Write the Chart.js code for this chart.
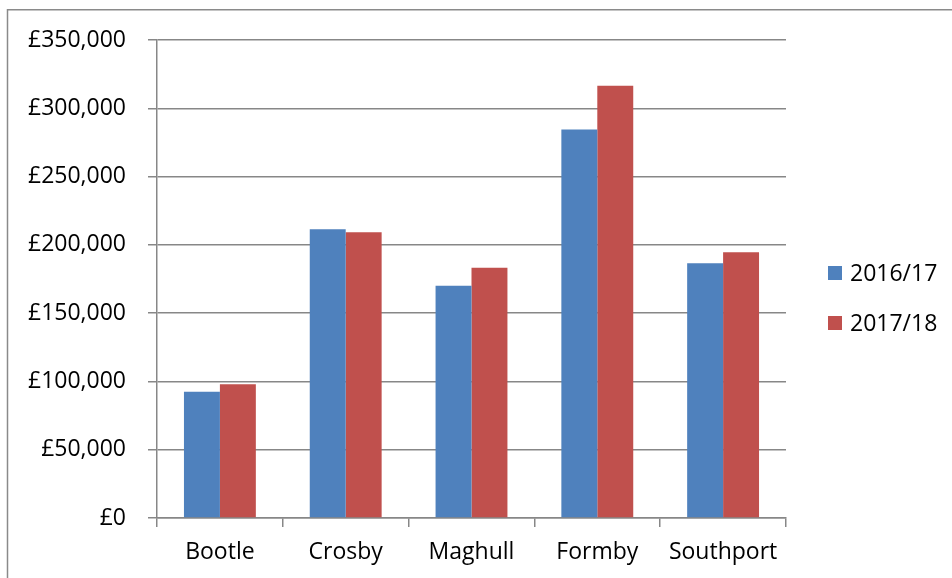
<!DOCTYPE html>
<html>
<head>
<meta charset="utf-8">
<script src="https://cdn.jsdelivr.net/npm/chart.js@4.4.1/dist/chart.umd.min.js"></script>
<style>
html,body{margin:0;padding:0;background:#fff;}
#wrap{position:relative;width:952px;height:578px;}
</style>
</head>
<body>
<div id="wrap"><canvas id="c" width="952" height="578"></canvas></div>
<script>
const categories = ['Bootle', 'Crosby', 'Maghull', 'Formby', 'Southport'];
const seriesNames = ['2016/17', '2017/18'];
const values2016 = [92500, 211400, 170000, 284500, 186500];
const values2017 = [98000, 209300, 183300, 316500, 194500];
const yTickValues = [0, 50000, 100000, 150000, 200000, 250000, 300000, 350000];
const seriesColors = ['#4F81BD', '#C0504D'];

const FONT = '"Open Sans", "Noto Sans", sans-serif';

const frame = {
  id: 'frame',
  beforeDraw(chart) {
    const ctx = chart.ctx;
    ctx.save();
    ctx.strokeStyle = '#8a8a8a';
    ctx.lineWidth = 1.5;
    ctx.strokeRect(7.5, 9.75, 1000, 700);
    ctx.restore();
  }
};

const sideLegend = {
  id: 'sideLegend',
  afterDraw(chart) {
    const ctx = chart.ctx;
    ctx.save();
    ctx.font = '23px ' + FONT;
    ctx.textBaseline = 'middle';
    ctx.textAlign = 'left';
    chart.data.datasets.forEach((ds, i) => {
      const cy = 273 + i * 50;
      ctx.fillStyle = ds.backgroundColor;
      ctx.fillRect(828, cy - 7, 14, 14);
      ctx.fillStyle = '#000';
      ctx.fillText(ds.label, 850, cy + 1);
    });
    ctx.restore();
  }
};

new Chart(document.getElementById('c'), {
  type: 'bar',
  data: {
    labels: categories,
    datasets: [
      { label: seriesNames[0], data: values2016, backgroundColor: seriesColors[0] },
      { label: seriesNames[1], data: values2017, backgroundColor: seriesColors[1] }
    ]
  },
  options: {
    responsive: false,
    animation: false,
    devicePixelRatio: 1,
    layout: { padding: { top: 40, right: 166, bottom: 0, left: 0 } },
    datasets: { bar: { barPercentage: 1, categoryPercentage: 0.5714 } },
    plugins: { legend: { display: false }, tooltip: { enabled: false } },
    scales: {
      x: {
        afterFit(scale) { scale.height = 60; },
        grid: { offset: true, drawOnChartArea: false, drawTicks: true, tickLength: 9, color: '#878787', lineWidth: 1.5 },
        border: { display: true, color: '#878787', width: 1.5 },
        ticks: { color: '#000', font: { family: FONT, size: 23 }, padding: 12, maxRotation: 0, autoSkip: false }
      },
      y: {
        min: 0,
        max: 350000,
        afterFit(scale) { scale.width = 157; },
        afterBuildTicks(scale) { scale.ticks = yTickValues.map(v => ({ value: v })); },
        grid: { drawTicks: true, tickLength: 9, color: '#878787', lineWidth: 1.5 },
        border: { display: true, color: '#878787', width: 1.5 },
        ticks: {
          color: '#000',
          font: { family: FONT, size: 23 },
          padding: 22,
          callback: v => '£' + Number(v).toLocaleString('en-GB')
        }
      }
    }
  },
  plugins: [frame, sideLegend]
});
</script>
</body>
</html>
